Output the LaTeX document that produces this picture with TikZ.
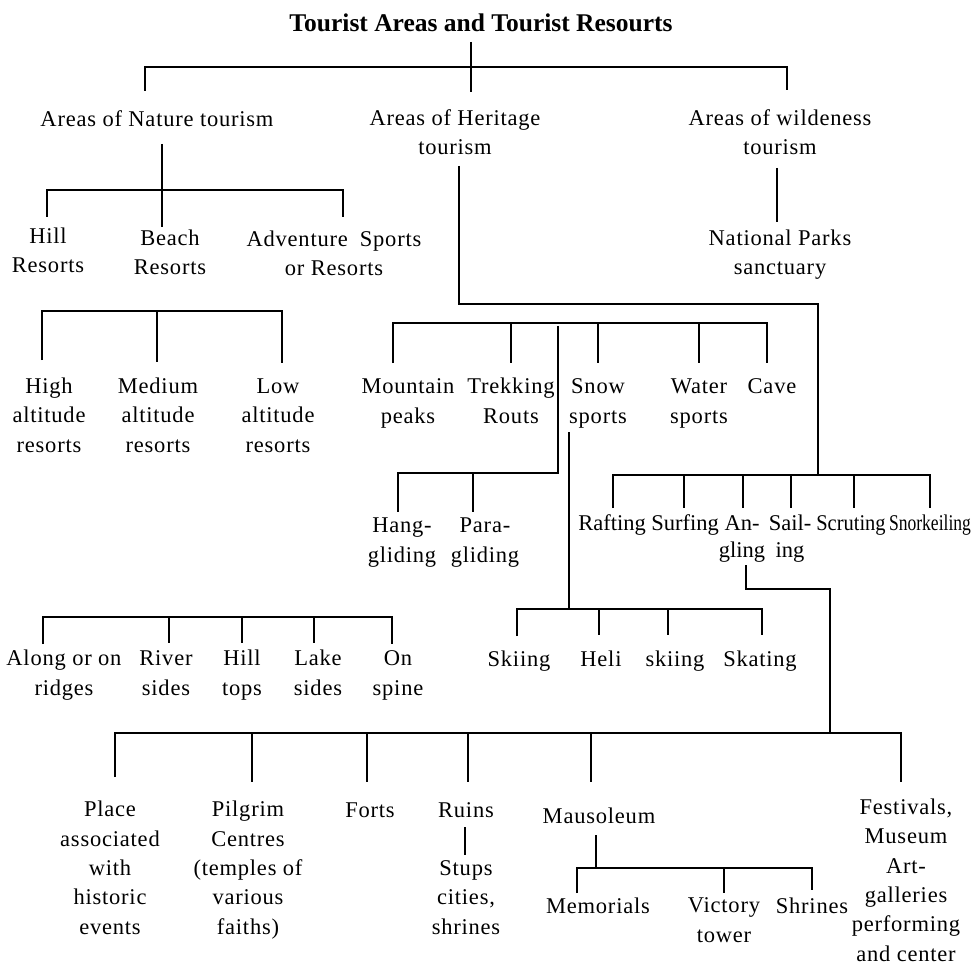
\documentclass[tikz,border=0pt]{standalone}
\usepackage{fontspec}
\setmainfont{Liberation Serif}[LetterSpace=3.5]
\newfontfamily\tightfont{Liberation Serif}
\begin{document}
\begin{tikzpicture}[x=1pt,y=-1pt,
  conn/.style={line width=1.7pt},
  lbl/.style={font=\fontsize{22.5}{29.3}\selectfont, align=center, inner sep=0pt, anchor=base},
  tlbl/.style={font=\fontsize{22.5}{27}\selectfont\tightfont, align=center, inner sep=0pt, anchor=base},
  ttl/.style={font=\fontsize{25.5}{29}\selectfont\tightfont\bfseries, inner sep=0pt, anchor=base}]
\useasboundingbox (0,0) rectangle (974,965);
% title (anchor = baseline of last line)
\node[ttl] (title) at (481,32) {Tourist Areas and Tourist Resourts};
% level 1
\node[lbl] (nature) at (157,127) {Areas of Nature tourism};
\node[lbl] (heritage) at (455,155) {Areas of Heritage\\tourism};
\node[lbl] (wild) at (780,155) {Areas of wildeness\\tourism};
% nature children
\node[lbl] (hill) at (48,273) {Hill\\Resorts};
\node[lbl] (beach) at (170,275) {Beach\\Resorts};
\node[lbl] (adv) at (334,276) {Adventure\hspace{0.25em} Sports\\or Resorts};
\node[lbl] (national) at (780,275) {National Parks\\sanctuary};
% altitude
\node[lbl] (high) at (49,452) {High\\altitude\\resorts};
\node[lbl] (medium) at (158,452) {Medium\\altitude\\resorts};
\node[lbl] (low) at (278,452) {Low\\altitude\\resorts};
% heritage children
\node[lbl] (mountain) at (408,423) {Mountain\\peaks};
\node[lbl] (trek) at (511,423) {Trekking\\Routs};
\node[lbl] (snow) at (598,423) {Snow\\sports};
\node[lbl] (water) at (699,423) {Water\\sports};
\node[lbl] (cave) at (772,393) {Cave};
\node[lbl] (hang) at (402,562) {Hang-\\gliding};
\node[lbl] (para) at (485,562) {Para-\\gliding};
% water sports
\node[tlbl] (rafting) at (612,530) {Rafting};
\node[tlbl] (surfing) at (685,530) {Surfing};
\node[tlbl] (angling) at (742,557) {An-\\gling};
\node[tlbl] (sailing) at (790,557) {Sail-\\ing};
\node[tlbl] (scruting) at (851,530) {\scalebox{0.91}[1]{Scruting}};
\node[tlbl] (snork) at (930,530) {\scalebox{0.78}[1]{Snorkeiling}};
% along group
\node[lbl] (along) at (64,695) {Along or on\\ridges};
\node[lbl] (river) at (166,695) {River\\sides};
\node[lbl] (hilltops) at (242,695) {Hill\\tops};
\node[lbl] (lake) at (318,695) {Lake\\sides};
\node[lbl] (spine) at (398,695) {On\\spine};
% snow sports
\node[lbl] (skiing) at (519,666) {Skiing};
\node[lbl] (heli) at (601,666) {Heli};
\node[lbl] (skiing2) at (675,666) {skiing};
\node[lbl] (skating) at (760,666) {Skating};
% bottom
\node[lbl] (place) at (110,934) {Place\\associated\\with\\historic\\events};
\node[lbl] (pilgrim) at (248,934) {Pilgrim\\Centres\\(temples of\\various\\faiths)};
\node[lbl] (forts) at (370,817) {Forts};
\node[lbl] (ruins) at (466,817) {Ruins};
\node[lbl] (stups) at (466,934) {Stups\\cities,\\shrines};
\node[lbl] (maus) at (599,823) {Mausoleum};
\node[lbl] (memorials) at (598,913) {Memorials};
\node[lbl] (victory) at (724,942) {Victory\\tower};
\node[lbl] (shrines) at (812,913) {Shrines};
\node[lbl] (festivals) at (906,961) {Festivals,\\Museum\\Art-\\galleries\\performing\\and center};
% connectors
\begin{scope}[conn]
\draw (471,42) -- (471,92);
\draw (145,91) |- (787,67) -- (787,90);
\draw (162,144) -- (162,227);
\draw (47,217) |- (343,190) -- (343,217);
\draw (42,360) |- (282,311) -- (282,363);
\draw (157,311) -- (157,362);
\draw (459,166) |- (818,304) -- (818,475);
\draw (393,363) |- (767,323) -- (767,363);
\foreach \x in {511,598,699} \draw (\x,323) -- (\x,363);
\draw (558,326) |- (398,473) -- (398,512);
\draw (473,473) -- (473,512);
\draw (569,432) -- (569,609);
\draw (517,636) |- (762,609) -- (762,635);
\foreach \x in {599,668} \draw (\x,609) -- (\x,635);
\draw (613,508) |- (930,475) -- (930,508);
\foreach \x in {684,743,791,854} \draw (\x,475) -- (\x,508);
\draw (746,565) |- (830,589) -- (830,733);
\draw (115,777) |- (901,733) -- (901,782);
\foreach \x in {252,367,468,591} \draw (\x,733) -- (\x,782);
\draw (465,827) -- (465,855);
\draw (596,835) -- (596,868);
\draw (577,893) |- (812,868) -- (812,890);
\draw (724,868) -- (724,893);
\draw (43,644) |- (392,617) -- (392,644);
\foreach \x in {169,242,314} \draw (\x,617) -- (\x,643);
\draw (777,168) -- (777,222);
\end{scope}
\end{tikzpicture}
\end{document}
